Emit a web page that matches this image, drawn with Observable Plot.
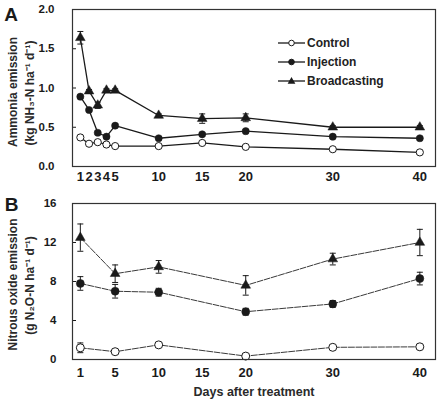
<!DOCTYPE html>
<html>
<head>
<meta charset="utf-8">
<script src="https://cdn.jsdelivr.net/npm/d3@7"></script>
<script src="https://cdn.jsdelivr.net/npm/@observablehq/plot@0.6"></script>
<style>
  body { margin: 0; background: #fff; }
  #chart { position: relative; width: 440px; height: 402px; font-family: "Liberation Sans", Arial, sans-serif; color: #222; }
  #chart svg { display: block; }
  .legend { position: absolute; left: 277px; top: 33px; font-weight: bold; font-size: 12px; color: #222; }
  .legend .row { display: flex; align-items: center; height: 19px; }
  .legend svg { margin-right: 1px; }
</style>
</head>
<body>
<div id="chart"></div>
<script>
// Panel A: ammonia emission (kg NH3-N ha-1 d-1)
const daysA = [1, 2, 3, 4, 5, 10, 15, 20, 30, 40];
const ammoniaControl = [0.37, 0.29, 0.31, 0.28, 0.26, 0.26, 0.30, 0.25, 0.22, 0.18];
const ammoniaControlErr = [0.02, 0.01, 0.01, 0.01, 0.01, 0.01, 0.01, 0.01, 0.01, 0.02];
const ammoniaInjection = [0.89, 0.72, 0.43, 0.38, 0.52, 0.36, 0.41, 0.45, 0.38, 0.36];
const ammoniaInjectionErr = [0.02, 0.02, 0.02, 0.02, 0.02, 0.02, 0.02, 0.02, 0.02, 0.02];
const ammoniaBroadcasting = [1.64, 0.96, 0.78, 0.97, 0.97, 0.65, 0.61, 0.62, 0.50, 0.50];
const ammoniaBroadcastingErr = [0.08, 0.02, 0.04, 0.02, 0.02, 0.02, 0.06, 0.05, 0.02, 0.02];

// Panel B: nitrous oxide emission (g N2O-N ha-1 d-1)
const daysB = [1, 5, 10, 20, 30, 40];
const n2oControl = [1.2, 0.8, 1.5, 0.35, 1.25, 1.3];
const n2oControlErr = [0.5, 0.2, 0.2, 0.15, 0.2, 0.2];
const n2oInjection = [7.8, 7.0, 6.9, 4.9, 5.7, 8.3];
const n2oInjectionErr = [0.7, 0.7, 0.4, 0.35, 0.35, 0.65];
const n2oBroadcasting = [12.5, 8.8, 9.5, 7.6, 10.3, 12.0];
const n2oBroadcastingErr = [1.4, 0.9, 0.65, 1.0, 0.6, 1.35];

const seriesNames = ["Control", "Injection", "Broadcasting"];
const xTicksA = [1, 2, 3, 4, 5, 10, 15, 20, 30, 40];
const xTicksB = [1, 5, 10, 15, 20, 30, 40];
const yTicksA = [0, 0.5, 1.0, 1.5, 2.0];
const yTicksB = [0, 4, 8, 12, 16];

function toRows(days, values, errors) {
  const out = [];
  seriesNames.forEach((name, i) => {
    days.forEach((day, j) => out.push({series: name, day, value: values[i][j], err: errors[i][j]}));
  });
  return out;
}

const rowsA = toRows(daysA,
  [ammoniaControl, ammoniaInjection, ammoniaBroadcasting],
  [ammoniaControlErr, ammoniaInjectionErr, ammoniaBroadcastingErr]);
const rowsB = toRows(daysB,
  [n2oControl, n2oInjection, n2oBroadcasting],
  [n2oControlErr, n2oInjectionErr, n2oBroadcastingErr]);

// horizontal cap for error bars
const capSymbol = {
  draw(context, size) {
    const w = Math.sqrt(size / Math.PI);
    context.moveTo(-w, 0);
    context.lineTo(w, 0);
  }
};

const ink = "#1a1a1a";

function markers(rows, rc, rt) {
  return [
    Plot.dot(rows.filter(d => d.series === "Control"), {x: "day", y: "value", r: rc, fill: "white", stroke: ink, strokeWidth: 1}),
    Plot.dot(rows.filter(d => d.series === "Injection"), {x: "day", y: "value", r: rc, fill: ink, stroke: ink, strokeWidth: 0.5}),
    Plot.dot(rows.filter(d => d.series === "Broadcasting"), {x: "day", y: "value", r: rt, symbol: "triangle", fill: ink, stroke: ink, strokeWidth: 0.5})
  ];
}

function errorBars(rows, cap) {
  return [
    Plot.ruleX(rows, {x: "day", y1: d => d.value - d.err, y2: d => d.value + d.err, stroke: ink, strokeWidth: 1}),
    Plot.dot(rows, {x: "day", y: d => d.value + d.err, symbol: capSymbol, r: cap, stroke: ink, strokeWidth: 1, fill: "none"}),
    Plot.dot(rows, {x: "day", y: d => d.value - d.err, symbol: capSymbol, r: cap, stroke: ink, strokeWidth: 1, fill: "none"})
  ];
}

// centred, rotated axis title placed relative to the frame's left edge
function yTitle(text, dx, dy) {
  return Plot.text([text], {text: d => d, frameAnchor: "left", textAnchor: "middle", lineAnchor: "middle", rotate: -90, dx, dy, fontSize: 12, fontWeight: "bold", fill: "#2a2a2a"});
}

function panelLetter(letter, dx, dy) {
  return Plot.text([letter], {text: d => d, frameAnchor: "top-left", textAnchor: "middle", lineAnchor: "middle", dx, dy, fontSize: 19, fontWeight: "bold", fill: ink});
}

const baseStyle = {fontFamily: "'Liberation Sans', Arial, sans-serif", fontWeight: "bold", color: ink, background: "white", overflow: "visible"};
const xDomain = [0.1, 41.8];

const panelA = Plot.plot({
  width: 440,
  height: 190,
  marginTop: 9,
  marginBottom: 24,
  marginLeft: 72,
  marginRight: 5,
  style: baseStyle,
  x: {domain: xDomain},
  y: {domain: [0, 2]},
  marks: [
    Plot.axisX({ticks: xTicksA, tickSize: 0, tickPadding: 5, fontSize: 13, fontWeight: "bold", label: null}),
    Plot.axisY({ticks: yTicksA, tickSize: -4, tickPadding: 22, tickFormat: d3.format(".1f"), fontSize: 11.5, fontWeight: "bold", label: null}),
    ...errorBars(rowsA, 3),
    Plot.line(rowsA, {x: "day", y: "value", z: "series", stroke: ink, strokeWidth: 1.3}),
    ...markers(rowsA, 3.6, 3.6),
    Plot.frame({stroke: "#333", strokeWidth: 1.2}),
    panelLetter("A", -61.5, 5),
    yTitle("Ammonia emission", -59, 4),
    yTitle("(kg NH\u2083-N ha\u207B\u00B9 d\u207B\u00B9)", -42, 5)
  ]
});

const panelB = Plot.plot({
  width: 440,
  height: 212,
  marginTop: 13,
  marginBottom: 43,
  marginLeft: 72,
  marginRight: 5,
  style: baseStyle,
  x: {domain: xDomain},
  y: {domain: [0, 16]},
  marks: [
    Plot.axisX({ticks: xTicksB, tickSize: 0, tickPadding: 8, fontSize: 13, fontWeight: "bold", label: null}),
    Plot.axisY({ticks: yTicksB, tickSize: -4, tickPadding: 20, fontSize: 11.5, fontWeight: "bold", label: null}),
    ...errorBars(rowsB, 3),
    Plot.line(rowsB, {x: "day", y: "value", z: "series", stroke: "#3a3a3a", strokeWidth: 1, strokeDasharray: "6,1.5"}),
    ...markers(rowsB, 4, 3.6),
    Plot.frame({stroke: "#333", strokeWidth: 1.2}),
    panelLetter("B", -61, 1),
    yTitle("Nitrous oxide emission", -59, 3),
    yTitle("(g N\u2082O-N ha\u207B\u00B9 d\u207B\u00B9)", -42, 4),
    Plot.text(["Days after treatment"], {text: d => d, frameAnchor: "bottom", dy: 36, fontSize: 12.5, fontWeight: "bold", fill: "#2a2a2a"})
  ]
});

const chart = document.getElementById("chart");
chart.appendChild(panelA);
chart.appendChild(panelB);

// legend for panel A
const legend = document.createElement("div");
legend.className = "legend";
const legendItems = [
  {name: "Control", symbol: "circle", fill: "white"},
  {name: "Injection", symbol: "circle", fill: ink},
  {name: "Broadcasting", symbol: "triangle", fill: ink}
];
for (const item of legendItems) {
  const row = document.createElement("div");
  row.className = "row";
  const sw = d3.create("svg").attr("width", 29).attr("height", 12);
  sw.append("line").attr("x1", 1).attr("x2", 28).attr("y1", 6).attr("y2", 6).attr("stroke", ink).attr("stroke-width", 1.3);
  if (item.symbol === "circle") {
    sw.append("circle").attr("cx", 14.5).attr("cy", 6).attr("r", 2.8).attr("fill", item.fill).attr("stroke", ink);
  } else {
    sw.append("path").attr("transform", "translate(14.5,6.5)").attr("d", d3.symbol(d3.symbolTriangle, 26)()).attr("fill", item.fill);
  }
  row.appendChild(sw.node());
  const label = document.createElement("span");
  label.textContent = item.name;
  row.appendChild(label);
  legend.appendChild(row);
}
chart.appendChild(legend);
</script>
</body>
</html>
